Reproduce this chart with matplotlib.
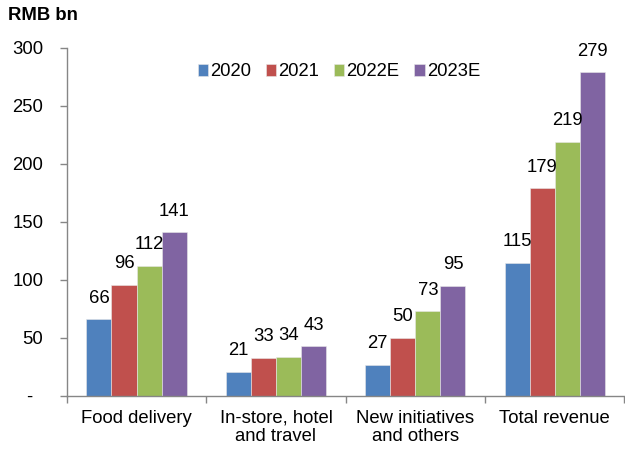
import matplotlib
matplotlib.use("Agg")
import matplotlib.pyplot as plt
import numpy as np

plt.rcParams['font.family'] = ['Liberation Sans', 'DejaVu Sans']

categories = ["Food delivery", "In-store, hotel\nand travel", "New initiatives\nand others", "Total revenue"]
series_names = ["2020", "2021", "2022E", "2023E"]
values = {
    "2020": [66, 21, 27, 115],
    "2021": [96, 33, 50, 179],
    "2022E": [112, 34, 73, 219],
    "2023E": [141, 43, 95, 279],
}
colors = ["#4F81BD", "#C0504D", "#9BBB59", "#8064A2"]
y_ticks = [0, 50, 100, 150, 200, 250, 300]
y_tick_labels = ["-  ", "50", "100", "150", "200", "250", "300"]

FS = 13.3

fig = plt.figure(figsize=(6.25, 4.51), dpi=100)
ax = fig.add_axes([0.107, 0.122, 0.892, 0.772])

x = np.arange(len(categories))
bw = 0.18
for i, name in enumerate(series_names):
    pos = x + (i - 1.5) * bw
    ax.bar(pos, values[name], width=bw, color=colors[i], label=name,
           edgecolor="#e8e8e8", linewidth=0.4)
    for xp, v in zip(pos, values[name]):
        ax.annotate(f"{v}", (xp, v), xytext=(0, 9), textcoords="offset points",
                    ha="center", va="bottom", fontsize=FS, color="black")

ax.set_xlim(-0.5, 3.5)
ax.set_ylim(0, 300)
ax.set_yticks(y_ticks)
ax.set_yticklabels(y_tick_labels, fontsize=FS)
ax.set_xticks(x)
ax.set_xticklabels(categories, fontsize=FS, linespacing=1.1)
ax.tick_params(axis="x", length=0, pad=10)
ax.set_xticks(np.arange(-0.5, 3.6, 1.0), minor=True)
ax.tick_params(axis="x", which="minor", length=5, color="#868686", width=1)
ax.tick_params(axis="y", length=5, color="#868686", width=1, pad=12)

for s in ["top", "right"]:
    ax.spines[s].set_visible(False)
for s in ["left", "bottom"]:
    ax.spines[s].set_color("#868686")
    ax.spines[s].set_linewidth(1)

fig.text(0.013, 0.966, "RMB bn", fontsize=FS, fontweight="bold", ha="left", va="center")

fig.legend(loc="center", bbox_to_anchor=(339 / 625, 1 - 72 / 451), ncol=4, frameon=False,
           fontsize=FS, handlelength=0.55, handleheight=0.55, handletextpad=0.12,
           columnspacing=0.8, borderaxespad=0)

fig.savefig("out.png", dpi=100)
